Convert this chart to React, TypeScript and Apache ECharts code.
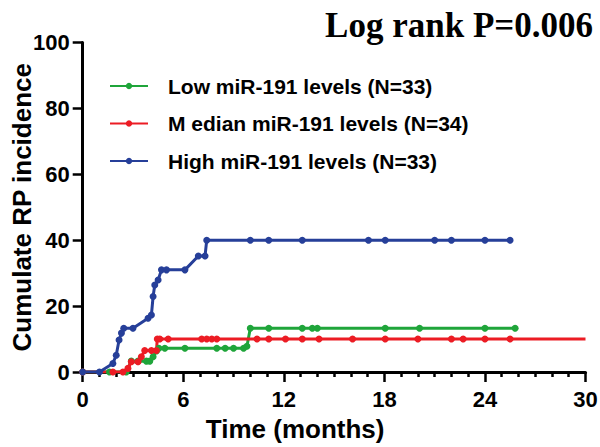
import React, { useEffect, useRef } from "react";
import * as echarts from "echarts";

// ---- data ----
const xTicks = [0, 6, 12, 18, 24, 30];
const yTicks = [0, 20, 40, 60, 80, 100];

const lowName = "Low miR-191 levels (N=33)";
const lowTimes = [0, 1.6, 2.6, 2.9, 3.3, 3.8, 4.0, 4.2, 4.4, 4.55, 4.9, 6.1, 8.0, 8.5, 9.0, 9.6, 9.8, 10.0, 11.1, 13.1, 13.7, 14.0, 18.05, 20.1, 24.0, 25.8];
const lowValues = [0, 0, 0, 3.3, 3.3, 3.3, 3.3, 4.6, 6.4, 7.2, 7.2, 7.2, 7.2, 7.2, 7.2, 7.2, 7.8, 13.3, 13.3, 13.3, 13.3, 13.3, 13.3, 13.3, 13.3, 13.3];

const medName = "M edian miR-191 levels (N=34)";
const medTimes = [0, 1.8, 2.4, 2.7, 2.9, 3.3, 3.5, 3.7, 4.1, 4.4, 4.45, 4.6, 5.1, 7.1, 7.4, 7.7, 8.0, 10.4, 11.1, 12.1, 13.1, 14.1, 16.1, 18.05, 20.0, 22.0, 22.7, 24.0, 25.5, 30];
const medValues = [0, 0, 0, 1.1, 3.1, 3.1, 4.6, 6.5, 6.5, 6.5, 10, 10, 10, 10, 10, 10, 10, 10, 10, 10, 10, 10, 10, 10, 10, 10, 10, 10, 10, 10];

const highName = "High miR-191 levels (N=33)";
const highTimes = [0, 1.0, 1.8, 2.0, 2.17, 2.31, 2.45, 3.0, 3.9, 4.1, 4.2, 4.3, 4.5, 4.7, 5.0, 6.1, 6.9, 7.3, 7.4, 10.0, 11.1, 13.1, 17.05, 18.05, 21.0, 22.0, 24.0, 25.5];
const highValues = [0, 0, 2.6, 5.1, 9.7, 11.8, 13.3, 13.3, 16.3, 17.3, 22.9, 26.4, 27.9, 31, 31, 31, 35.2, 35.2, 40, 40, 40, 40, 40, 40, 40, 40, 40, 40];

const GREEN = "#1fa53a";
const RED = "#ec1c24";
const BLUE = "#263f99";
const FONT = "'Liberation Sans', Arial, sans-serif";

function zip(t: number[], v: number[], lastNoSymbol = false) {
  return t.map((x, i) => {
    if (lastNoSymbol && i === t.length - 1) return { value: [x, v[i]], symbol: "none" };
    return [x, v[i]];
  });
}

export default function App() {
  const ref = useRef<HTMLDivElement>(null);
  useEffect(() => {
    if (!ref.current) return;
    const chart = echarts.init(ref.current, null, { renderer: "svg" });
    const mkSeries = (name: string, data: any[], color: string) => ({
      name,
      type: "line",
      data,
      color,
      symbol: "circle",
      symbolSize: 7,
      showSymbol: true,
      lineStyle: { width: 3, color },
      itemStyle: { color },
    });
    chart.setOption({
      animation: false,
      backgroundColor: "#ffffff",
      title: {
        text: "Log rank P=0.006",
        right: 7,
        top: 8,
        padding: 0,
        textStyle: {
          fontFamily: "'Liberation Serif', 'Times New Roman', serif",
          fontWeight: "bold",
          fontSize: 35,
          color: "#000",
        },
      },
      legend: {
        orient: "vertical",
        left: 109,
        top: 75,
        itemWidth: 38,
        itemHeight: 8,
        itemGap: 15.5,
        padding: 0,
        data: [lowName, medName, highName],
        textStyle: {
          fontFamily: FONT,
          fontWeight: "bold",
          fontSize: 21,
          lineHeight: 22,
          color: "#000",
          padding: [0, 0, 0, 15],
        },
      },
      grid: {
        left: 82.7,
        right: 14.5,
        top: 42.5,
        bottom: 75,
        containLabel: false,
        outerBoundsMode: "none",
      },
      xAxis: {
        type: "value",
        min: xTicks[0],
        max: xTicks[xTicks.length - 1],
        interval: 6,
        name: "Time (months)",
        nameLocation: "middle",
        nameGap: 44,
        nameMoveOverlap: false,
        nameTextStyle: {
          fontFamily: FONT,
          fontWeight: "bold",
          fontSize: 26,
          color: "#000",
          padding: [0, 78, 0, 0],
        },
        axisLine: { show: true, lineStyle: { color: "#000", width: 3 } },
        axisTick: { show: true, length: 10, lineStyle: { color: "#000", width: 2.5 } },
        minorTick: { show: true, splitNumber: 6, length: 5, lineStyle: { color: "#000", width: 2.5 } },
        splitLine: { show: false },
        axisLabel: {
          fontFamily: FONT,
          fontWeight: "bold",
          fontSize: 22,
          color: "#000",
          margin: 16,
        },
      },
      yAxis: {
        type: "value",
        min: yTicks[0],
        max: yTicks[yTicks.length - 1],
        interval: 20,
        name: "Cumulate RP incidence",
        nameLocation: "middle",
        nameGap: 48,
        nameMoveOverlap: false,
        nameTextStyle: {
          fontFamily: FONT,
          fontWeight: "bold",
          fontSize: 26,
          color: "#000",
        },
        axisLine: { show: true, lineStyle: { color: "#000", width: 3 } },
        axisTick: { show: true, length: 10, lineStyle: { color: "#000", width: 2.5 } },
        splitLine: { show: false },
        axisLabel: {
          fontFamily: FONT,
          fontWeight: "bold",
          fontSize: 22,
          color: "#000",
          margin: 13,
        },
      },
      series: [
        mkSeries(lowName, zip(lowTimes, lowValues), GREEN),
        mkSeries(medName, zip(medTimes, medValues, true), RED),
        mkSeries(highName, zip(highTimes, highValues), BLUE),
      ],
    });
    return () => chart.dispose();
  }, []);
  return <div ref={ref} style={{ width: 600, height: 447, position: "absolute", left: 0, top: 0 }} />;
}
